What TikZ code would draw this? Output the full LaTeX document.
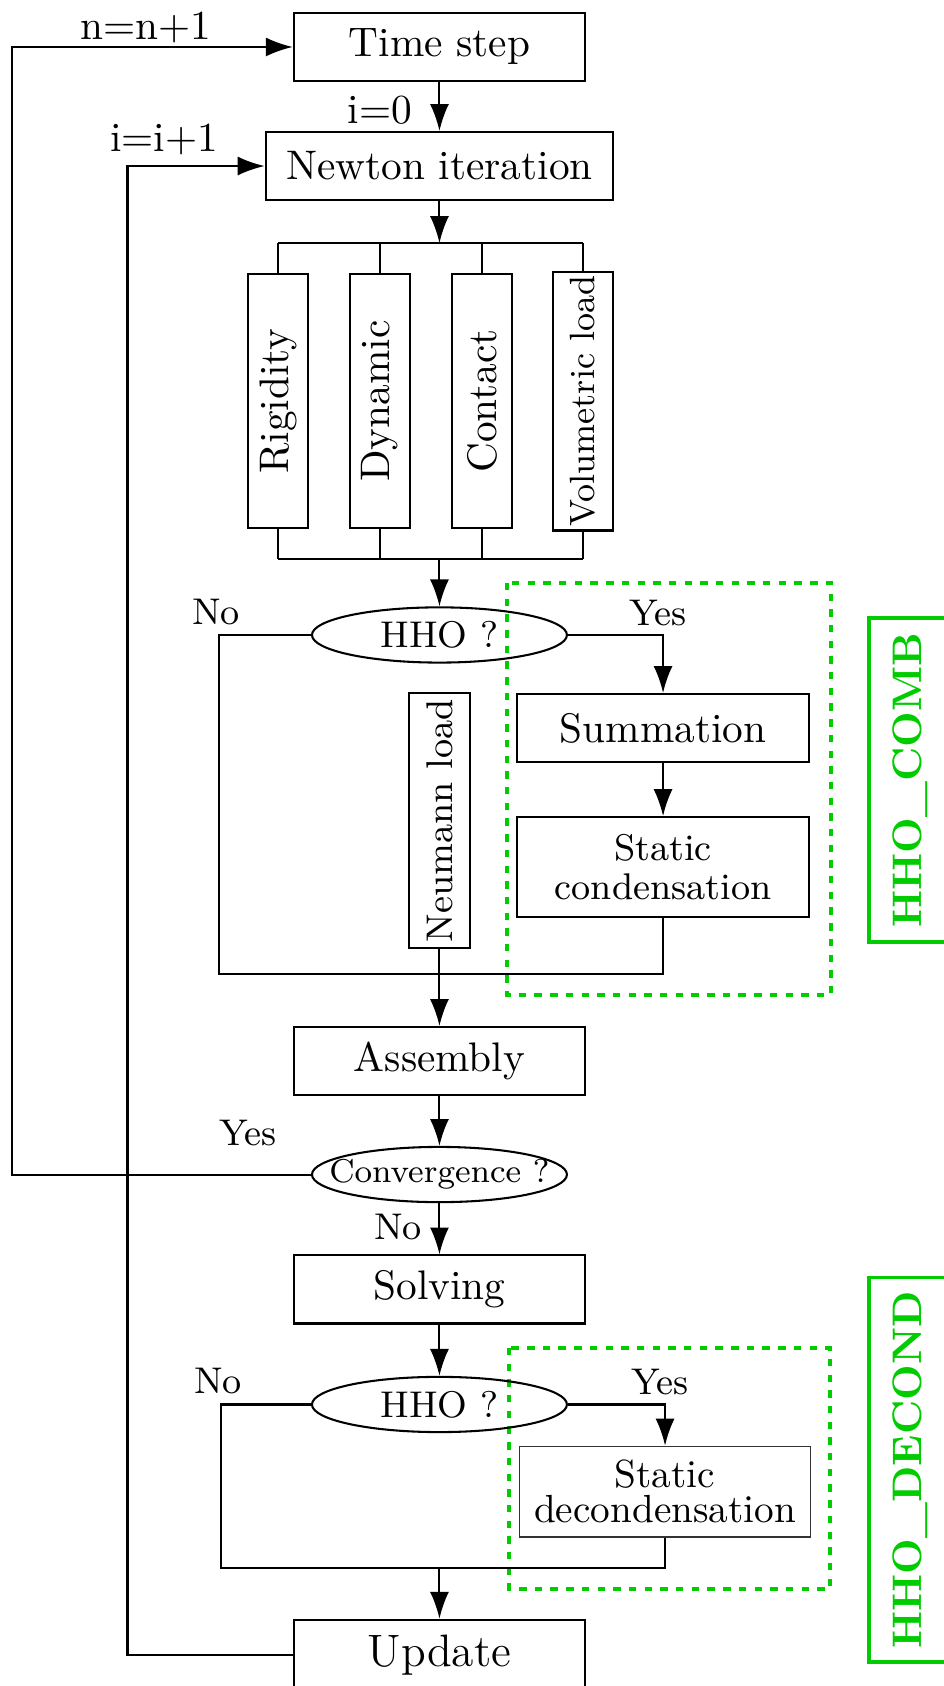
\documentclass[tikz,border=0pt]{standalone}
\usetikzlibrary{arrows.meta,shapes.geometric}
\definecolor{hhogreen}{RGB}{0,204,0}

\begin{document}
\begin{tikzpicture}[
    line width=0.5pt,
    >={Latex[length=6.5pt,width=4.6pt]},
    box/.style={draw, minimum width=2.48cm, minimum height=0.58cm, inner xsep=5pt},
    vbox/.style={draw, rotate=90, minimum width=2.16cm, minimum height=0.51cm, inner sep=1pt},
    decision/.style={draw, ellipse, minimum width=2.17cm, minimum height=0.47cm, inner sep=0pt, font=\small},
    answer/.style={font=\small, inner sep=0pt},
    group/.style={draw=hhogreen, line width=0.8pt, dash pattern=on 1.8pt off 2pt},
    tag/.style={draw=hhogreen, text=hhogreen, line width=0.9pt, rotate=90, minimum height=0.7cm, font=\bfseries}
]
    \useasboundingbox (0,0) rectangle (8.026,-14.349);

    % HHO groups
    \draw[group] (4.315,-4.962) rectangle (7.072,-8.468);
    \draw[group] (4.332,-11.472) rectangle (7.064,-13.523);
    \node[tag, minimum width=2.757cm] (combtag) at (7.745,-6.638) {HHO\_COMB};
    \node[tag, minimum width=2.894cm] (decondtag) at (7.745,-12.51) {HHO\_DECOND};

    % Main column
    \node[box] (tstep) at (3.74,-0.40) {Time step};
    \node[box] (newton) at (3.74,-1.413) {Newton iteration};
    \node[vbox] (rig) at (2.366,-3.413) {Rigidity};
    \node[vbox] (dyn) at (3.234,-3.413) {Dynamic};
    \node[vbox] (con) at (4.102,-3.413) {Contact};
    \node[vbox, font=\fontsize{8.5}{10}\selectfont] (vol) at (4.962,-3.413) {Volumetric load};
    \node[decision] (hho1) at (3.74,-5.404) {\makebox[0pt]{HHO ?}};
    \node[box] (summ) at (5.643,-6.196) {Summation};
    \node[box, minimum height=0.85cm, align=center, font=\small] (scond) at (5.643,-7.379) {Static\\[-1.5pt]condensation};
    \node[vbox, minimum width=2.17cm, minimum height=0.52cm, font=\small] (neu) at (3.74,-6.983) {Neumann load};
    \node[box] (asm) at (3.74,-9.03) {Assembly};
    \node[decision, font=\footnotesize] (conv) at (3.74,-9.996) {\makebox[0pt]{Convergence ?}};
    \node[box] (solv) at (3.74,-10.974) {Solving};
    \node[decision] (hho2) at (3.74,-11.953) {\makebox[0pt]{HHO ?}};
    \node[box, minimum height=0.757cm, inner xsep=2pt, align=center, line width=0.3pt, draw=black!80,
          font=\fontsize{9.5}{11}\selectfont] (sdecond) at (5.66,-12.694) {Static\\[-2.5pt]decondensation};
    \node[box, minimum height=0.6cm, font=\fontsize{11}{13}\selectfont] (update) at (3.74,-14.085) {Update};

    % Labels
    \node (lblnext) at (1.243,-0.23) {n=n+1};
    \node (lblizero) at (3.234,-0.936) {i=0};
    \node (lbliter) at (1.396,-1.191) {i=i+1};
    \node[answer] (no1) at (1.838,-5.209) {No};
    \node[answer] (yes1) at (5.6,-5.217) {Yes};
    \node[answer] (convyes) at (2.111,-9.643) {Yes};
    \node[answer] (convno) at (3.387,-10.443) {No};
    \node[answer] (no3) at (1.855,-11.753) {No};
    \node[answer] (yes3) at (5.617,-11.762) {Yes};

    % Corners
    \coordinate (outer) at (0.102,0);
    \coordinate (inner) at (1.085,0);
    \coordinate (bustop) at (3.74,-2.068);
    \coordinate (busbot) at (3.74,-4.757);
    \coordinate (nocorner1) at (1.864,-8.289);
    \coordinate (nocorner2) at (1.881,-13.345);
    \coordinate (join2) at (3.74,-13.345);

    % Loops
    \draw[->] (conv.west) -- (conv.west -| outer) |- (tstep.west);
    \draw[->] (update.west) -- (update.west -| inner) |- (newton.west);

    % Top part
    \draw[->] (tstep) -- (newton);
    \draw[->] (newton) -- (bustop);
    \draw (rig.east |- bustop) -- (vol.east |- bustop);
    \draw (rig.west |- busbot) -- (vol.west |- busbot);
    \foreach \n in {rig,dyn,con,vol}{
        \draw (\n.east) -- (\n.east |- bustop);
        \draw (\n.west) -- (\n.west |- busbot);
    }
    \draw[->] (busbot) -- (hho1);

    % First HHO test
    \draw (hho1.west) -| (nocorner1) -| (scond.south);
    \draw[->] (hho1.east) -| (summ.north);
    \draw[->] (summ) -- (scond);
    \draw[->] (neu.west) -- (asm.north);

    % Convergence and solving
    \draw[->] (asm) -- (conv);
    \draw[->] (conv) -- (solv);
    \draw[->] (solv) -- (hho2);

    % Second HHO test
    \draw (hho2.west) -| (nocorner2) -| (sdecond.south);
    \draw[->] (hho2.east) -| (sdecond.north);
    \draw[->] (join2) -- (update);
\end{tikzpicture}
\end{document}
